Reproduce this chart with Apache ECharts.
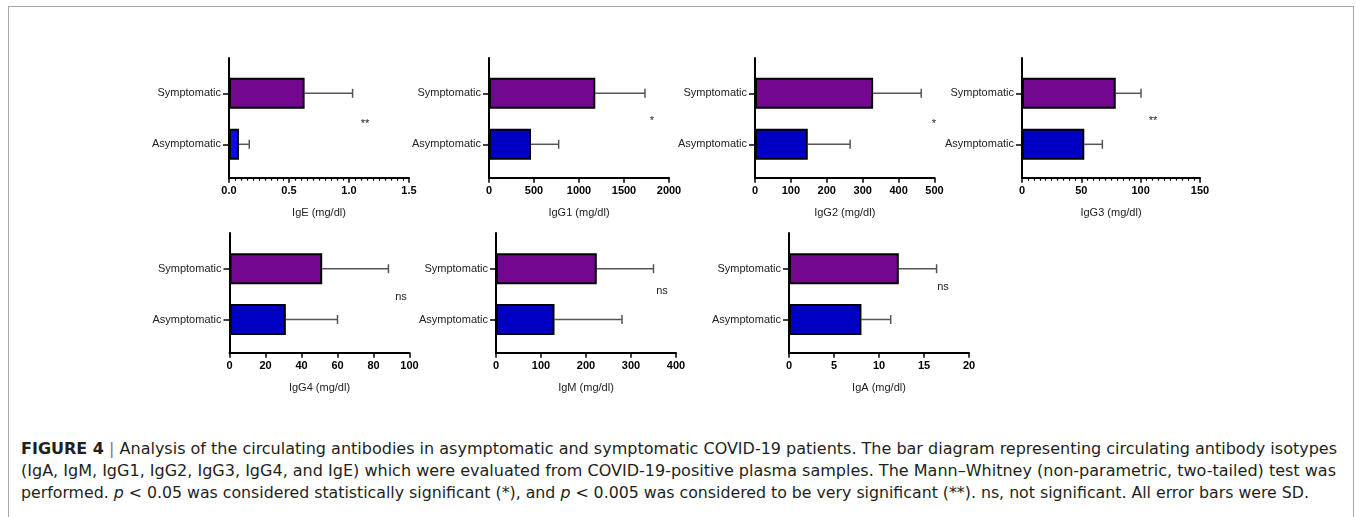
<!DOCTYPE html>
<html><head><meta charset="utf-8">
<script src="https://cdn.jsdelivr.net/npm/echarts@6/dist/echarts.min.js"></script>
<style>
html,body{margin:0;padding:0;background:#fff;overflow:hidden;}
#frame{position:absolute;left:8px;top:6px;width:1346px;height:530px;border:1px solid #a8a8a8;border-bottom:none;box-sizing:border-box;}
#chart{position:absolute;left:0;top:0;width:1356px;height:410px;}
.cap{position:absolute;left:21px;white-space:nowrap;font-family:"Liberation Sans Narrow","DejaVu Sans Condensed","Liberation Sans",sans-serif;font-size:16px;line-height:18px;color:#231f20;transform-origin:0 50%;}
.cap b{font-weight:bold;}
.sep{color:#777;}
</style></head>
<body>
<div id="frame"></div>
<div id="chart"></div>
<div class="cap" id="c1" style="top:440px"><b>FIGURE 4</b> <span class="sep">|</span> Analysis of the circulating antibodies in asymptomatic and symptomatic COVID-19 patients. The bar diagram representing circulating antibody isotypes</div>
<div class="cap" id="c2" style="top:462px">(IgA, IgM, IgG1, IgG2, IgG3, IgG4, and IgE) which were evaluated from COVID-19-positive plasma samples. The Mann–Whitney (non-parametric, two-tailed) test was</div>
<div class="cap" id="c3" style="top:484px">performed. <i>p</i> &lt; 0.05 was considered statistically significant (*), and <i>p</i> &lt; 0.005 was considered to be very significant (**). ns, not significant. All error bars were SD.</div>
<script>
// ---- data ----
const categories = ['Asymptomatic', 'Symptomatic'];
const isotypes = ['IgE', 'IgG1', 'IgG2', 'IgG3', 'IgG4', 'IgM', 'IgA'];
const axisNames = ['IgE (mg/dl)', 'IgG1 (mg/dl)', 'IgG2 (mg/dl)', 'IgG3 (mg/dl)', 'IgG4 (mg/dl)', 'IgM (mg/dl)', 'IgA (mg/dl)'];
const asymMean = [0.083, 467, 147, 52.5, 31.3, 130, 8.05];
const asymSD   = [0.086, 307, 118, 15.2, 28.7, 150, 3.25];
const symMean  = [0.63, 1181, 329, 79, 51.5, 224, 12.2];
const symSD    = [0.40, 552, 134, 21.3, 36.8, 126, 4.2];
const axisMax      = [1.5, 2000, 500, 150, 100, 400, 20];
const axisInterval = [0.5, 500, 100, 50, 20, 100, 5];
const significance = ['**', '*', '*', '**', 'ns', 'ns', 'ns'];

// ---- layout (not data) ----
const panelLeft  = [229, 489, 755, 1022, 229.5, 496, 789];
const panelWidth = [180, 180, 179.5, 178, 180, 180, 180];
const panelRow   = [0, 0, 0, 0, 1, 1, 1];
const rowOuterTop = [58, 233], rowOuterBottom = [177.7, 352.7];
const rowInnerTop = [67.8, 243.3], rowInnerH = [102, 101.6];
const minorTicks = [true, false, false, true, false, false, false];
const sigPos = [[365, 121], [652, 118], [934, 121], [1153, 118], [401, 297], [662, 291], [943, 287]];
const PURPLE = '#74078f';
const blueColors = ['#0a0af5', '#0000c4', '#0000c4', '#0000c4', '#0000c4', '#0000c4', '#0000c4'];

const FONT = '"Liberation Sans", Arial, sans-serif';
const grids = [], xAxes = [], yAxes = [], series = [], graphics = [];

isotypes.forEach((name, i) => {
  const r = panelRow[i];
  const outer = grids.length;
  grids.push({left: panelLeft[i], width: panelWidth[i], top: rowOuterTop[r], height: rowOuterBottom[r] - rowOuterTop[r], containLabel: false});
  const inner = grids.length;
  grids.push({left: panelLeft[i], width: panelWidth[i], top: rowInnerTop[r], height: rowInnerH[r], containLabel: false});

  // outer: visible x axis + y axis line
  xAxes.push({
    gridIndex: outer, type: 'value', min: 0, max: axisMax[i], interval: axisInterval[i],
    axisLine: {show: true, lineStyle: {color: '#000', width: 2}},
    axisTick: {show: true, length: 5, lineStyle: {color: '#000', width: 1.5}},
    minorTick: {show: minorTicks[i], splitNumber: 10, length: 3, lineStyle: {color: '#000', width: 1.2}},
    splitLine: {show: false},
    axisLabel: {color: '#000', fontFamily: FONT, fontSize: 11, fontWeight: 'bold', margin: 8,
      formatter: v => (axisMax[i] < 10 && axisInterval[i] < 1) ? v.toFixed(1) : String(v)},
    name: axisNames[i], nameLocation: 'middle', nameGap: 30,
    nameTextStyle: {color: '#222', fontFamily: FONT, fontSize: 11}
  });
  yAxes.push({
    gridIndex: outer, type: 'value', min: 0, max: 1,
    axisLine: {show: true, lineStyle: {color: '#000', width: 2}},
    axisTick: {show: false}, axisLabel: {show: false}, splitLine: {show: false}
  });
  // inner: bars
  xAxes.push({gridIndex: inner, type: 'value', min: 0, max: axisMax[i], show: false});
  yAxes.push({
    gridIndex: inner, type: 'category', data: categories,
    axisLine: {show: false},
    axisTick: {show: true, alignWithLabel: true, length: 6, lineStyle: {color: '#000', width: 1.5}},
    axisLabel: {color: '#222', fontFamily: FONT, fontSize: 11, margin: 8},
    splitLine: {show: false}
  });
  const xi = xAxes.length - 1, yi = yAxes.length - 1;
  series.push({
    type: 'bar', xAxisIndex: xi, yAxisIndex: yi, barWidth: 31, silent: true, z: 2,
    data: [
      {value: asymMean[i], itemStyle: {color: blueColors[i], borderColor: '#000', borderWidth: 2}},
      {value: symMean[i], itemStyle: {color: PURPLE, borderColor: '#000', borderWidth: 2}}
    ]
  });
  series.push({
    type: 'custom', xAxisIndex: xi, yAxisIndex: yi, silent: true, z: 1,
    encode: {x: 1, y: 0},
    data: [[0, asymMean[i], asymSD[i]], [1, symMean[i], symSD[i]]],
    renderItem: (params, api) => {
      const c = api.value(0), m = api.value(1), sd = api.value(2);
      const p0 = api.coord([m, c]), p1 = api.coord([m + sd, c]);
      const st = {stroke: '#555', lineWidth: 1.5};
      return {type: 'group', children: [
        {type: 'line', shape: {x1: p0[0], y1: p0[1], x2: p1[0], y2: p1[1]}, style: st},
        {type: 'line', shape: {x1: p1[0], y1: p1[1] - 4.5, x2: p1[0], y2: p1[1] + 4.5}, style: st}
      ]};
    }
  });
  const star = significance[i].indexOf('*') >= 0;
  graphics.push({
    type: 'text', x: sigPos[i][0], y: sigPos[i][1] + (star ? 3 : 0),
    style: {text: significance[i], fill: '#222', font: '11px ' + FONT, textAlign: 'center', textVerticalAlign: 'middle'}
  });
});

const chart = echarts.init(document.getElementById('chart'), null, {renderer: 'canvas'});
chart.setOption({
  animation: false, backgroundColor: 'transparent',
  grid: grids, xAxis: xAxes, yAxis: yAxes, series: series, graphic: graphics
});

// fit caption lines to reference widths
const capWidths = {c1: 1316, c2: 1315, c3: 1288};
Object.keys(capWidths).forEach(id => {
  const el = document.getElementById(id);
  const w = el.getBoundingClientRect().width;
  el.style.transform = 'scaleX(' + (capWidths[id] / w) + ')';
});
</script>
</body></html>
